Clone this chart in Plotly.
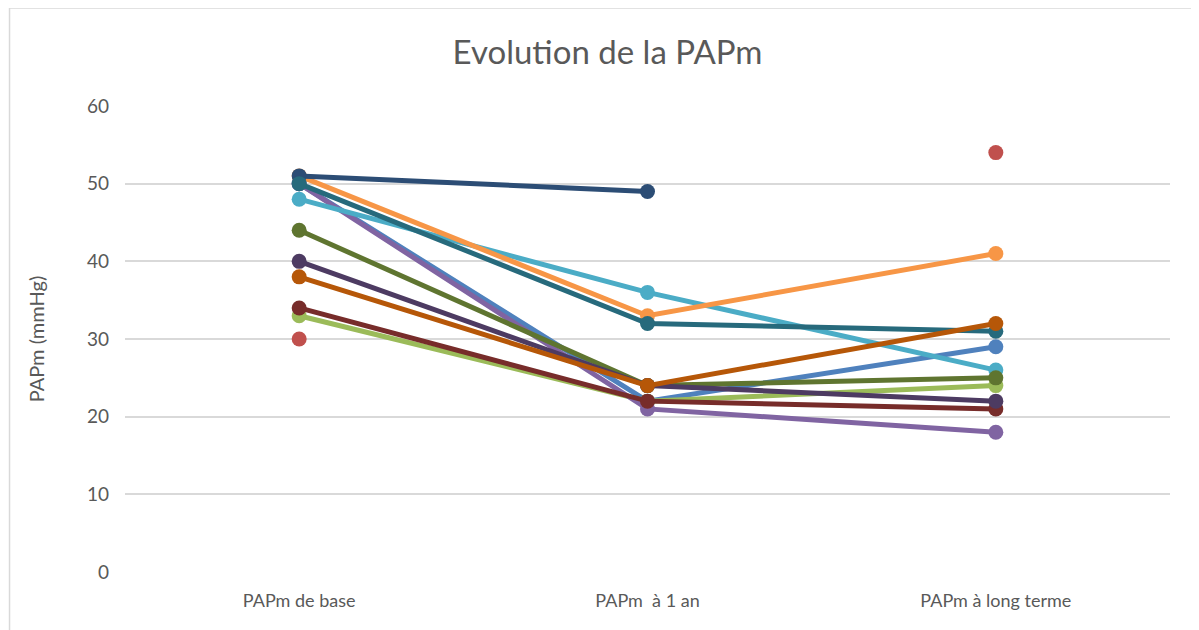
import plotly.graph_objects as go

categories = ["PAPm de base", "PAPm  à 1 an", "PAPm à long terme"]

s1 = [50, 22, 29]
s2 = [30, None, 54]
s3 = [33, 22, 24]
s4 = [50, 21, 18]
s5 = [48, 36, 26]
s6 = [51, 33, 41]
s7 = [51, 49, None]
s8 = [34, 22, 21]
s9 = [44, 24, 25]
s10 = [40, 24, 22]
s11 = [50, 32, 31]
s12 = [38, 24, 32]

series = [s1, s2, s3, s4, s5, s6, s7, s8, s9, s10, s11, s12]
colors = ["#4F81BD", "#C0504D", "#9BBB59", "#8064A2", "#4BACC6", "#F79646",
          "#2C4D75", "#772C2A", "#5F7530", "#4D3B62", "#276A7C", "#B65708"]

fig = go.Figure()
for i, (vals, color) in enumerate(zip(series, colors)):
    fig.add_trace(go.Scatter(x=categories, y=vals, mode="lines+markers",
                             name="Série %d" % (i + 1),
                             line=dict(color=color, width=5),
                             marker=dict(color=color, size=15),
                             connectgaps=False))

grey = "#595959"
fig.update_layout(
    width=1199, height=630,
    margin=dict(l=117, r=37, t=98, b=66),
    paper_bgcolor="white", plot_bgcolor="white",
    showlegend=False,
    font=dict(family="Lato, Open Sans, sans-serif", color=grey, size=18),
    title=dict(text="Evolution de la PAPm", x=0.5, xanchor="center",
               y=0.93, yanchor="middle",
               font=dict(size=33, color=grey)),
)
fig.update_xaxes(range=[-0.5, 2.5], showgrid=False, showline=False,
                 ticks="", ticklabelstandoff=16,
                 tickfont=dict(size=18, color=grey))
fig.update_yaxes(range=[0, 60], dtick=10, showgrid=True, gridcolor="#D9D9D9",
                 gridwidth=1.5, zeroline=False, showline=False, ticks="",
                 ticklabelstandoff=15, tickfont=dict(size=19, color=grey),
                 title=dict(text="PAPm (mmHg)", font=dict(size=20, color=grey),
                            standoff=36))
# chart-area border (left and top edges are the visible ones)
fig.add_shape(type="rect", xref="paper", yref="paper",
              x0=-0.1105, x1=1.0249, y0=-0.2, y1=1.2103,
              line=dict(color="#D9D9D9", width=1.5), layer="below")

fig.write_html("out.html")
